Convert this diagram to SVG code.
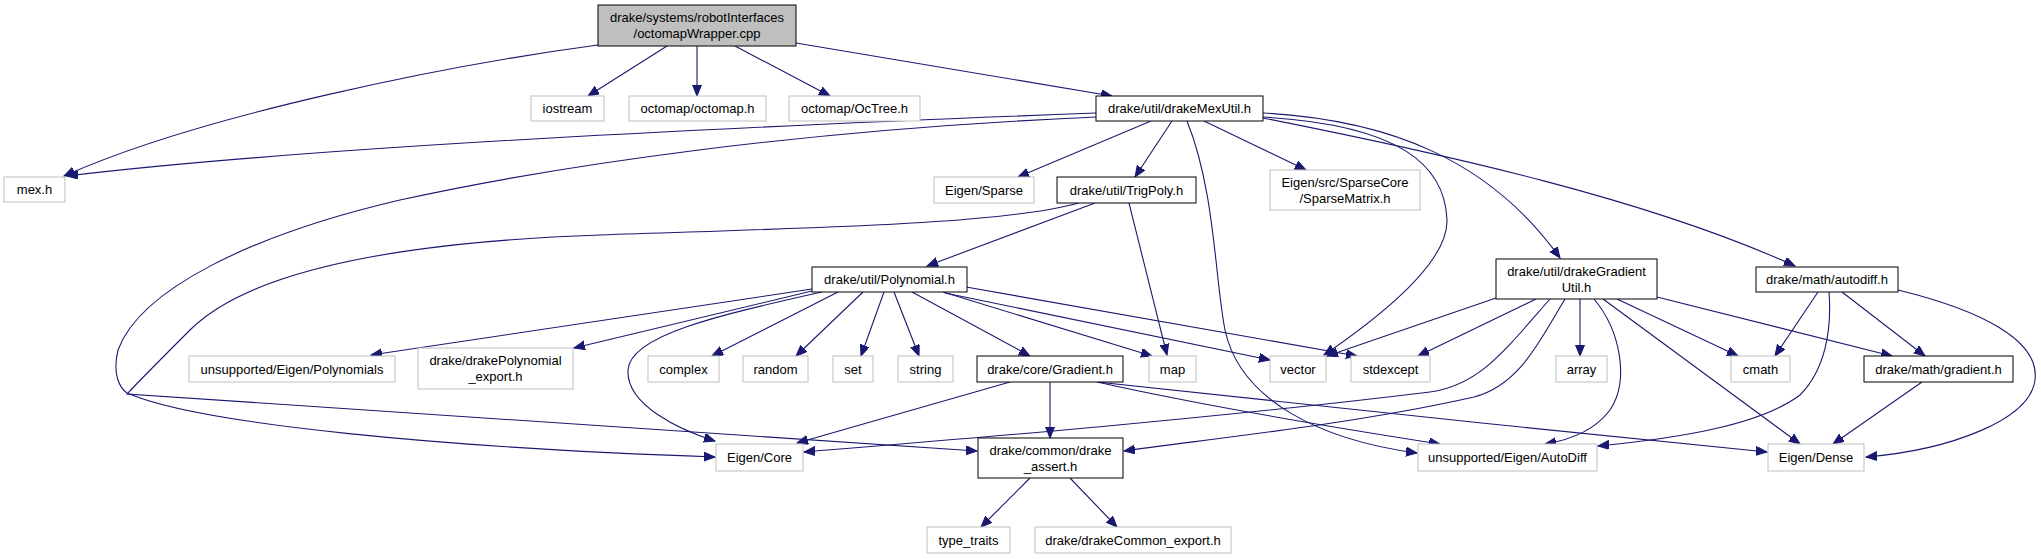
<svg xmlns="http://www.w3.org/2000/svg" width="2041" height="559" viewBox="0 0 2041 559">
<style>
rect{fill:#fff;stroke:#bfbfbf;stroke-width:1}
.b rect{stroke:#000}
.r rect{fill:#bfbfbf;stroke:#000}
text{font-family:"Liberation Sans",Arial,sans-serif;font-size:13px;text-anchor:middle;fill:#000}
#edges path{fill:none;stroke:#191970;stroke-width:1.1;marker-end:url(#a)}
</style>
<defs>
<marker id="a" markerWidth="12" markerHeight="10" refX="11" refY="4.5" orient="auto" markerUnits="userSpaceOnUse"><path d="M0,0 L11,4.5 L0,9 z" fill="#191970" stroke="#191970"/></marker>
</defs>
<rect x="0" y="0" width="2041" height="559" style="fill:#fff;stroke:none"/>
<g id="edges">
<path d="M598,45 C448,65 200,115 64,176"/>
<path d="M667,46 L588,96"/>
<path d="M697,46 L697,96"/>
<path d="M735,46 L830,96"/>
<path d="M796,43 L1112,96"/>
<path d="M1096,113 C700,128 300,148 67,176"/>
<path d="M1096,117 C800,130 560,165 400,200 C250,235 140,290 118,350 C112,375 120,388 127,393 C200,425 450,448 715,457"/>
<path d="M1079,203 C1000,225 800,228 600,235 C400,242 250,270 190,330 C165,355 140,380 127,394 L977,451"/>
<path d="M1151,121 L1018,177"/>
<path d="M1172,121 L1135,177"/>
<path d="M1187,121 C1215,190 1215,280 1225,330 C1240,400 1320,440 1417,453"/>
<path d="M1204,121 L1306,170"/>
<path d="M1263,117 C1400,125 1445,165 1447,220 C1448,260 1390,310 1324,355"/>
<path d="M1263,113 C1390,120 1490,160 1560,258"/>
<path d="M1263,118 C1450,155 1650,200 1795,266"/>
<path d="M1095,203 L927,266"/>
<path d="M1129,203 L1167,355"/>
<path d="M812,289 L371,355"/>
<path d="M812,291 L574,348"/>
<path d="M822,292 C720,315 630,335 628,370 C626,405 680,430 715,441"/>
<path d="M838,292 L712,356"/>
<path d="M863,292 L796,356"/>
<path d="M884,292 L861,356"/>
<path d="M894,292 L919,356"/>
<path d="M912,292 L1030,356"/>
<path d="M943,292 L1152,356"/>
<path d="M945,293 L1270,360"/>
<path d="M966,287 L1357,356"/>
<path d="M1496,298 L1327,356"/>
<path d="M1536,299 L1418,356"/>
<path d="M1550,299 C1505,350 1480,385 1430,392 C1200,420 950,440 804,452"/>
<path d="M1565,299 C1540,340 1520,385 1474,397 C1350,425 1200,440 1124,451"/>
<path d="M1580,299 L1580,356"/>
<path d="M1594,299 C1620,330 1630,380 1610,410 C1595,430 1570,440 1545,444"/>
<path d="M1603,299 L1800,444"/>
<path d="M1617,299 L1738,356"/>
<path d="M1657,297 L1892,356"/>
<path d="M1818,292 L1775,356"/>
<path d="M1829,292 C1832,330 1825,370 1800,395 C1760,425 1680,438 1598,446"/>
<path d="M1842,292 L1925,356"/>
<path d="M1898,290 C1980,310 2040,340 2035,380 C2030,420 1950,450 1866,457"/>
<path d="M1010,382 L797,443"/>
<path d="M1050,382 L1050,438"/>
<path d="M1097,382 C1200,405 1350,430 1440,444"/>
<path d="M1097,382 C1300,405 1550,430 1767,452"/>
<path d="M1030,478 L981,527"/>
<path d="M1070,478 L1117,527"/>
<path d="M1922,382 L1833,444"/>
</g>
<g id="root" class="r"><rect x="598" y="5" width="198" height="41"/><text x="697" y="21.5">drake/systems/robotInterfaces</text><text x="697" y="37.5">/octomapWrapper.cpp</text></g>
<g id="iostream"><rect x="531" y="96" width="73" height="25"/><text x="567.5" y="113">iostream</text></g>
<g id="octomap_h"><rect x="629" y="96" width="137" height="25"/><text x="697.5" y="113">octomap/octomap.h</text></g>
<g id="octree_h"><rect x="789" y="96" width="131" height="25"/><text x="854.5" y="113">octomap/OcTree.h</text></g>
<g id="drakeMexUtil" class="b"><rect x="1096" y="96" width="167" height="25"/><text x="1179.5" y="113">drake/util/drakeMexUtil.h</text></g>
<g id="mex_h"><rect x="4" y="177" width="61" height="25"/><text x="34.5" y="194">mex.h</text></g>
<g id="eigen_sparse"><rect x="934" y="177" width="100" height="26"/><text x="984" y="194.5">Eigen/Sparse</text></g>
<g id="trigpoly" class="b"><rect x="1057" y="177" width="139" height="26"/><text x="1126.5" y="194.5">drake/util/TrigPoly.h</text></g>
<g id="sparsematrix"><rect x="1270" y="170" width="150" height="40"/><text x="1345" y="186.5">Eigen/src/SparseCore</text><text x="1345" y="202.5">/SparseMatrix.h</text></g>
<g id="polynomial" class="b"><rect x="812" y="267" width="155" height="25"/><text x="889.5" y="284">drake/util/Polynomial.h</text></g>
<g id="gradientutil" class="b"><rect x="1496" y="259" width="161" height="40"/><text x="1576.5" y="275.5">drake/util/drakeGradient</text><text x="1576.5" y="291.5">Util.h</text></g>
<g id="autodiff_h" class="b"><rect x="1756" y="267" width="142" height="25"/><text x="1827" y="284">drake/math/autodiff.h</text></g>
<g id="polynomials"><rect x="189" y="356" width="206" height="26"/><text x="292" y="373.5">unsupported/Eigen/Polynomials</text></g>
<g id="poly_export"><rect x="418" y="348" width="155" height="41"/><text x="495.5" y="364.5">drake/drakePolynomial</text><text x="495.5" y="380.5">_export.h</text></g>
<g id="complex"><rect x="648" y="356" width="71" height="26"/><text x="683.5" y="373.5">complex</text></g>
<g id="random"><rect x="743" y="356" width="65" height="26"/><text x="775.5" y="373.5">random</text></g>
<g id="set"><rect x="833" y="356" width="40" height="26"/><text x="853" y="373.5">set</text></g>
<g id="string"><rect x="898" y="356" width="55" height="26"/><text x="925.5" y="373.5">string</text></g>
<g id="core_gradient" class="b"><rect x="977" y="356" width="146" height="26"/><text x="1050" y="373.5">drake/core/Gradient.h</text></g>
<g id="map"><rect x="1149" y="356" width="47" height="26"/><text x="1172.5" y="373.5">map</text></g>
<g id="vector"><rect x="1270" y="356" width="56" height="26"/><text x="1298" y="373.5">vector</text></g>
<g id="stdexcept"><rect x="1351" y="356" width="79" height="26"/><text x="1390.5" y="373.5">stdexcept</text></g>
<g id="array"><rect x="1556" y="356" width="51" height="26"/><text x="1581.5" y="373.5">array</text></g>
<g id="cmath"><rect x="1731" y="356" width="59" height="26"/><text x="1760.5" y="373.5">cmath</text></g>
<g id="math_gradient" class="b"><rect x="1864" y="356" width="149" height="26"/><text x="1938.5" y="373.5">drake/math/gradient.h</text></g>
<g id="eigen_core"><rect x="716" y="444" width="87" height="27"/><text x="759.5" y="462">Eigen/Core</text></g>
<g id="drake_assert" class="b"><rect x="978" y="438" width="145" height="40"/><text x="1050.5" y="454.5">drake/common/drake</text><text x="1050.5" y="470.5">_assert.h</text></g>
<g id="autodiff_eigen"><rect x="1418" y="444" width="179" height="27"/><text x="1507.5" y="462">unsupported/Eigen/AutoDiff</text></g>
<g id="eigen_dense"><rect x="1768" y="444" width="96" height="27"/><text x="1816" y="462">Eigen/Dense</text></g>
<g id="type_traits"><rect x="927" y="527" width="83" height="26"/><text x="968.5" y="544.5">type_traits</text></g>
<g id="common_export"><rect x="1035" y="527" width="196" height="26"/><text x="1133" y="544.5">drake/drakeCommon_export.h</text></g>
</svg>
